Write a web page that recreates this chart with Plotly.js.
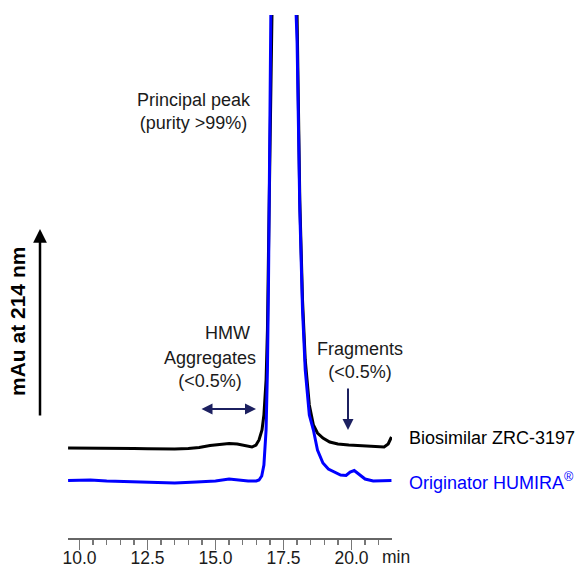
<!DOCTYPE html>
<html>
<head>
<meta charset="utf-8">
<script src="https://cdn.plot.ly/plotly-3.0.1.min.js"></script>
<style>
  html, body { margin: 0; padding: 0; background: #fff; }
  #chart { width: 579px; height: 567px; }
</style>
</head>
<body>
<div id="chart"></div>
<script>
// SEC-HPLC chromatograms, stacked: retention time (min) vs absorbance (mAU, arbitrary)
const timeBiosimilar = [9.58, 10.0, 10.5, 11.0, 11.5, 12.0, 12.5, 13.0, 13.5, 14.0, 14.4, 14.8, 15.2, 15.5, 15.8, 16.1,
  16.34, 16.49, 16.60, 16.71, 16.78, 16.86, 16.91, 16.95, 16.99, 17.03, 17.1, 17.3, 17.5, 17.7, 17.85, 17.96,
  18.0, 18.1, 18.2, 18.3, 18.45, 18.6, 18.75, 18.95, 19.2, 19.5, 19.9, 20.4, 20.9, 21.2, 21.35, 21.47];
const absBiosimilar = [3.3, 3.3, 3.3, 3.28, 3.25, 3.25, 3.22, 3.2, 3.2, 3.25, 3.35, 3.55, 3.7, 3.75, 3.7, 3.5,
  3.4, 3.6, 4.1, 5.1, 6.6, 10.1, 15.1, 23.1, 36.1, 50, 70, 110, 125, 110, 75, 50,
  46.6, 28.1, 18.1, 12.1, 7.6, 5.6, 4.8, 4.3, 3.9, 3.7, 3.6, 3.5, 3.4, 3.4, 3.7, 4.4];

const timeOriginator = [9.58, 10.0, 10.4, 11.0, 12.0, 13.0, 13.5, 14.3, 15.0, 15.5, 15.8, 16.2, 16.5, 16.6,
  16.70, 16.78, 16.86, 16.91, 16.95, 16.99, 17.03, 17.1, 17.3, 17.5, 17.7, 17.85, 17.96,
  18.0, 18.1, 18.2, 18.3, 18.45, 18.6, 18.75, 18.95, 19.15, 19.35, 19.6, 19.8, 19.95, 20.1, 20.3, 20.5, 20.8, 21.2, 21.47];
const absOriginator = [0.05, 0.1, 0.1, 0.0, -0.1, -0.15, -0.2, -0.1, 0.0, 0.2, 0.1, 0.0, 0.0, 0.1,
  0.5, 1.6, 5.1, 11.1, 20.1, 33.1, 47, 67, 107, 122, 107, 72, 47,
  44, 27.1, 17.1, 11.1, 6.6, 5.1, 3.1, 1.8, 1.2, 0.9, 0.6, 0.55, 0.9, 1.05, 0.6, 0.2, 0.0, 0.0, 0.05];

const seriesNames = ['Biosimilar ZRC-3197', 'Originator HUMIRA<sup>®</sup>'];
const xTicks = [10.0, 12.5, 15.0, 17.5, 20.0];

// plot-area geometry in pixels, used to place labels around the traces
const M = { l: 68, r: 187, t: 15, b: 29 };
const W = 579, H = 567;
const PW = W - M.l - M.r, PH = H - M.t - M.b;
const px = x => (x - M.l) / PW;
const py = y => (H - M.b - y) / PH;

const FONT = 'Liberation Sans, Arial, Helvetica, sans-serif';
const NAVY = '#1c2060';
const BLUE = '#0000ff';
const INK = '#1a1a1a';

const traces = [
  { x: timeBiosimilar, y: absBiosimilar, mode: 'lines', name: seriesNames[0],
    line: { color: '#000000', width: 3 }, hoverinfo: 'skip' },
  { x: timeOriginator, y: absOriginator, mode: 'lines', name: seriesNames[1],
    line: { color: BLUE, width: 3 }, hoverinfo: 'skip' }
];

const txt = (text, x, y, extra) => Object.assign({
  text, xref: 'paper', yref: 'paper', x: px(x), y: py(y), showarrow: false,
  xanchor: 'center', yanchor: 'middle', font: { family: FONT, size: 18, color: INK }
}, extra || {});

const annotations = [
  // y-axis arrow and its label
  { xref: 'paper', yref: 'paper', x: px(40), y: py(229), ax: 0, ay: 188, text: '',
    showarrow: true, arrowhead: 2, arrowsize: 1.1, arrowwidth: 2.5, arrowcolor: '#000' },
  txt('<b>mAu at 214 nm</b>', 17, 322, { textangle: -90, font: { family: FONT, size: 21, color: '#000' } }),
  // peak call-outs
  txt('Principal peak<br>(purity >99%)', 194, 111),
  txt('HMW', 227, 333),
  txt('Aggregates<br>(<0.5%)', 210, 369),
  { xref: 'paper', yref: 'paper', x: px(256), y: py(409), ax: -56, ay: 0, text: '',
    showarrow: true, arrowside: 'end+start', arrowhead: 2, arrowsize: 1.1, arrowwidth: 2, arrowcolor: NAVY },
  txt('Fragments<br>(<0.5%)', 360, 360),
  { xref: 'paper', yref: 'paper', x: px(348), y: py(430), ax: 0, ay: -43, text: '',
    showarrow: true, arrowhead: 2, arrowsize: 1.1, arrowwidth: 2, arrowcolor: NAVY },
  // series labels at the right end of each trace
  txt(seriesNames[0], 407, 438, { xanchor: 'left', font: { family: FONT, size: 18, color: '#000' } }),
  txt(seriesNames[1], 407, 481, { xanchor: 'left', font: { family: FONT, size: 18, color: BLUE } }),
  // x-axis unit
  txt('min', 396, 557, { height: 16, borderpad: 0, font: { family: FONT, size: 17.5, color: INK } })
];

const layout = {
  width: W, height: H,
  margin: M,
  paper_bgcolor: '#fff', plot_bgcolor: '#fff',
  showlegend: false,
  xaxis: {
    range: [9.577, 21.49],
    tickmode: 'array', tickvals: xTicks, ticktext: xTicks.map(v => v.toFixed(1)),
    ticks: 'outside', ticklen: 10, tickwidth: 1.5, tickcolor: '#777',
    ticklabelstandoff: -7,
    minor: { dtick: 0.5, tick0: 10, ticks: 'outside', ticklen: 5, tickwidth: 1.5, tickcolor: '#777' },
    showline: true, linecolor: '#666', linewidth: 2,
    showgrid: false, zeroline: false,
    tickfont: { family: FONT, size: 17.5, color: INK }
  },
  yaxis: { range: [-5.7, 46.6], visible: false, showgrid: false, zeroline: false },
  annotations
};

Plotly.newPlot('chart', traces, layout, { staticPlot: true, displayModeBar: false });
</script>
</body>
</html>
